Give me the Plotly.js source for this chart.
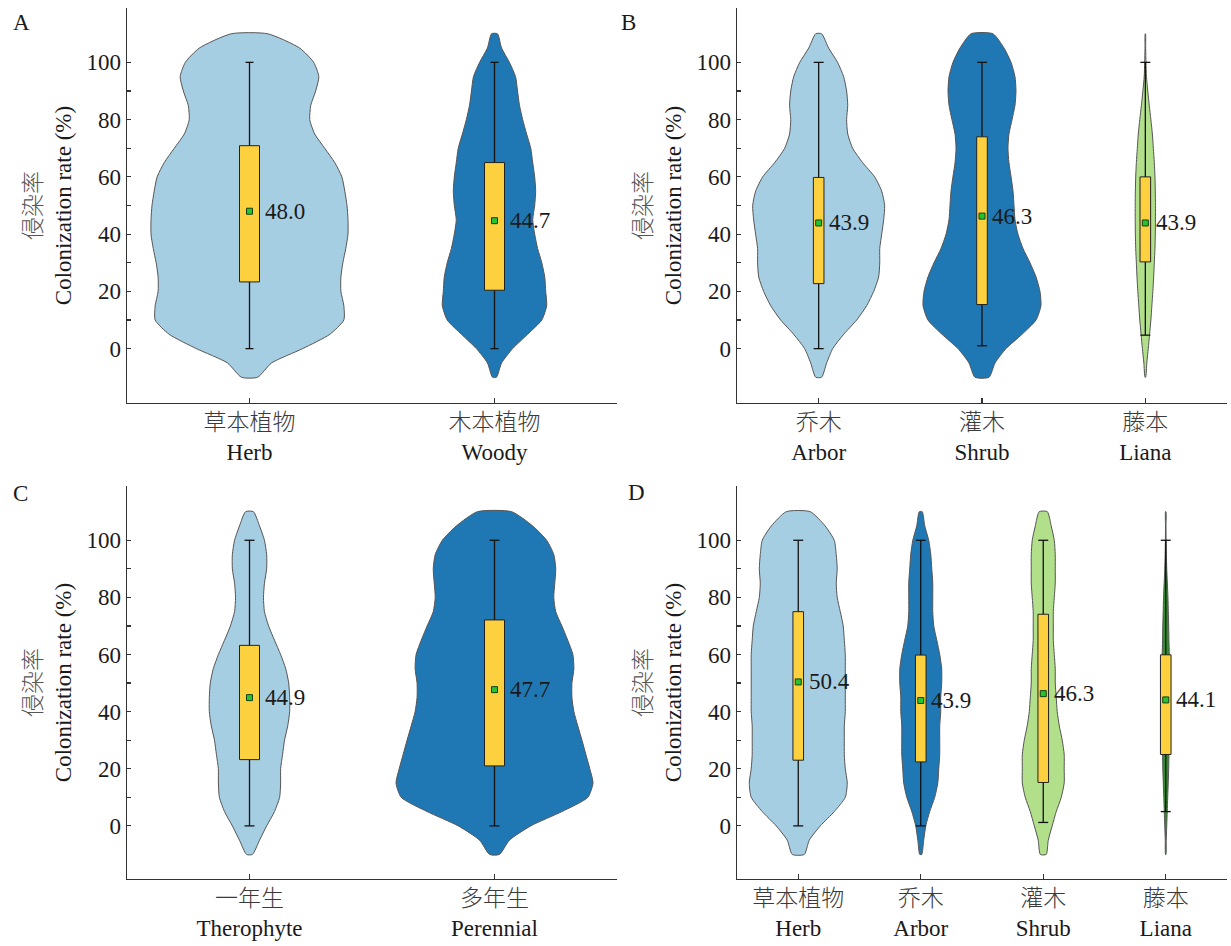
<!DOCTYPE html>
<html><head><meta charset="utf-8">
<script src="https://cdn.plot.ly/plotly-3.0.1.min.js"></script>
<style>html,body{margin:0;padding:0;background:#fff}#chart{width:1231px;height:946px}</style>
</head><body><div id="chart"></div>
<script>
// ---------- data ----------
const yLevels = [-10,-5,0,5,10,15,20,25,30,35,40,45,50,55,60,65,70,75,80,85,90,95,100,105,110];

// Panel A
const catsA_zh = ['草本植物', '木本植物'];
const catsA_en = ['Herb', 'Woody'];
const violinA_Herb  = [0.033,0.090,0.217,0.328,0.385,0.385,0.373,0.373,0.381,0.393,0.402,0.402,0.398,0.389,0.377,0.348,0.307,0.266,0.246,0.250,0.270,0.283,0.262,0.205,0.074];
const violinA_Woody = [0.008,0.029,0.074,0.135,0.193,0.213,0.209,0.205,0.193,0.176,0.164,0.156,0.164,0.168,0.164,0.156,0.148,0.131,0.115,0.102,0.094,0.086,0.061,0.029,0.012];
const q1A = [23.3, 20.4];
const q3A = [70.9, 65.0];
const loA = [0, 0];
const hiA = [100, 100];
const meanA = [48.0, 44.7];

// Panel B
const catsB_zh = ['乔木', '灌木', '藤本'];
const catsB_en = ['Arbor', 'Shrub', 'Liana'];
const violinB_Arbor = [0.018,0.049,0.086,0.153,0.233,0.294,0.337,0.367,0.374,0.374,0.386,0.398,0.404,0.386,0.343,0.269,0.208,0.178,0.171,0.178,0.171,0.153,0.116,0.061,0.018];
const violinB_Shrub = [0.043,0.080,0.147,0.245,0.331,0.361,0.355,0.331,0.294,0.251,0.220,0.202,0.196,0.190,0.178,0.165,0.159,0.165,0.184,0.202,0.208,0.202,0.178,0.135,0.067];
const violinB_Liana = [0.002,0.009,0.018,0.026,0.034,0.040,0.046,0.051,0.055,0.059,0.061,0.062,0.062,0.061,0.059,0.055,0.049,0.043,0.034,0.024,0.015,0.007,0.004,0.002,0.001];
const q1B = [22.7, 15.4, 30.3];
const q3B = [59.8, 74.0, 60.0];
const loB = [0, 1, 4.7];
const hiB = [100, 100, 100];
const meanB = [43.9, 46.3, 43.9];

// Panel C
const catsC_zh = ['一年生', '多年生'];
const catsC_en = ['Therophyte', 'Perennial'];
const violinC_Thero = [0.012,0.041,0.070,0.102,0.123,0.127,0.127,0.135,0.143,0.156,0.164,0.164,0.160,0.148,0.127,0.102,0.078,0.061,0.057,0.061,0.070,0.070,0.061,0.041,0.016];
const violinC_Peren = [0.020,0.061,0.148,0.275,0.381,0.402,0.389,0.373,0.357,0.340,0.324,0.316,0.316,0.324,0.320,0.299,0.275,0.250,0.242,0.246,0.250,0.242,0.213,0.156,0.070];
const q1C = [23.2, 21.0];
const q3C = [63.2, 72.1];
const loC = [0, 0];
const hiC = [100, 100];
const meanC = [44.9, 47.7];

// Panel D
const catsD_zh = ['草本植物', '乔木', '灌木', '藤本'];
const catsD_en = ['Herb', 'Arbor', 'Shrub', 'Liana'];
const violinD_Herb  = [0.049,0.090,0.180,0.294,0.384,0.400,0.384,0.376,0.376,0.376,0.384,0.384,0.384,0.384,0.384,0.376,0.367,0.343,0.318,0.310,0.318,0.310,0.294,0.220,0.098];
const violinD_Arbor = [0.008,0.024,0.041,0.073,0.114,0.139,0.147,0.155,0.155,0.155,0.163,0.163,0.171,0.171,0.155,0.131,0.106,0.098,0.098,0.098,0.090,0.082,0.065,0.033,0.012];
const violinD_Shrub = [0.024,0.041,0.073,0.106,0.147,0.171,0.171,0.171,0.155,0.131,0.114,0.106,0.098,0.098,0.090,0.082,0.082,0.082,0.090,0.098,0.098,0.098,0.090,0.065,0.033];
const violinD_Liana = [0.002,0.004,0.008,0.012,0.016,0.020,0.024,0.026,0.029,0.029,0.030,0.031,0.031,0.030,0.029,0.026,0.024,0.021,0.018,0.013,0.008,0.005,0.003,0.002,0.002];
const q1D = [23.0, 22.4, 15.2, 25.0];
const q3D = [75.0, 59.8, 74.1, 59.9];
const loD = [0, 0, 1.2, 5.0];
const hiD = [100, 100, 100, 100];
const meanD = [50.4, 43.9, 46.3, 44.1];

const yTickVals = [0, 20, 40, 60, 80, 100];
const yMinorVals = [10, 30, 50, 70, 90];

// ---------- styles ----------
const W = 1231, H = 946;
const LIGHTBLUE = '#a6cee3', DARKBLUE = '#1f78b4', LIGHTGREEN = '#b2df8a', DARKGREEN = '#2f8f2a';
const BOXFILL = '#fdd03f';
const FONT = 'Liberation Serif, "Noto Sans CJK SC", serif';
const FS = 23;
const ZH_STYLE = 'color:#3a3a3a;font-weight:300';
const EN_STYLE = 'font-weight:400';
const domXL = [127/W, 617/W], domXR = [737/W, 1227/W];
const domYT = [1-403/H, 1-8/H], domYB = [1-879/H, 1-486/H];
const rangeYT = [-19, 119], rangeYB = [-18.6, 119];

const traces = [];
const annotations = [];

function addPanel(ax, cats, widths, colors, q1, q3, lo, hi, mean, domX, boxHalfPx, capHalfPx) {
  const xa = 'x' + (ax === 1 ? '' : ax), ya = 'y' + (ax === 1 ? '' : ax);
  const pxPerUnit = (domX[1] - domX[0]) * W / cats.length;
  const bh = boxHalfPx / pxPerUnit, ch = capHalfPx / pxPerUnit;
  cats.forEach((c, i) => {
    const w = widths[i];
    const xs = [], ys = [];
    for (let k = 0; k < yLevels.length; k++) { xs.push(i + w[k]); ys.push(yLevels[k]); }
    for (let k = yLevels.length - 1; k >= 0; k--) { xs.push(i - w[k]); ys.push(yLevels[k]); }
    xs.push(xs[0]); ys.push(ys[0]);
    traces.push({x: xs, y: ys, xaxis: xa, yaxis: ya, mode: 'lines', fill: 'toself',
      fillcolor: colors[i], line: {color: '#555555', width: 1, shape: 'spline', smoothing: 0.6},
      hoverinfo: 'skip', showlegend: false});
  });
  const wx = [], wy = [];
  cats.forEach((c, i) => {
    wx.push(i, i, null, i - ch, i + ch, null, i - ch, i + ch, null);
    wy.push(lo[i], hi[i], null, lo[i], lo[i], null, hi[i], hi[i], null);
  });
  traces.push({x: wx, y: wy, xaxis: xa, yaxis: ya, mode: 'lines',
    line: {color: '#111111', width: 1.3}, hoverinfo: 'skip', showlegend: false});
  cats.forEach((c, i) => {
    traces.push({x: [i - bh, i + bh, i + bh, i - bh, i - bh], y: [q1[i], q1[i], q3[i], q3[i], q1[i]],
      xaxis: xa, yaxis: ya, mode: 'lines', fill: 'toself', fillcolor: BOXFILL,
      line: {color: '#222222', width: 1}, hoverinfo: 'skip', showlegend: false});
  });
  traces.push({x: cats.map((c, i) => i), y: mean, xaxis: xa, yaxis: ya, mode: 'markers',
    marker: {symbol: 'square', size: 6, color: '#27c22f', line: {color: '#14401a', width: 1}},
    showlegend: false, hoverinfo: 'y'});
  mean.forEach((m, i) => {
    annotations.push({x: i + bh, y: m, xref: xa, yref: ya, xanchor: 'left', yanchor: 'middle',
      xshift: 3, showarrow: false, text: m.toFixed(1), font: {family: FONT, size: FS, color: '#1a1a1a'}});
  });
}

function labels(zh, en) {
  return zh.map((z, i) => '<span style="' + ZH_STYLE + '">' + z + '</span><br><span style="' + EN_STYLE + '">' + en[i] + '</span>');
}
const catsA = labels(catsA_zh, catsA_en), catsB = labels(catsB_zh, catsB_en);
const catsC = labels(catsC_zh, catsC_en), catsD = labels(catsD_zh, catsD_en);

addPanel(1, catsA, [violinA_Herb, violinA_Woody], [LIGHTBLUE, DARKBLUE], q1A, q3A, loA, hiA, meanA, domXL, 10, 4);
addPanel(2, catsB, [violinB_Arbor, violinB_Shrub, violinB_Liana], [LIGHTBLUE, DARKBLUE, LIGHTGREEN], q1B, q3B, loB, hiB, meanB, domXR, 5.3, 5);
addPanel(3, catsC, [violinC_Thero, violinC_Peren], [LIGHTBLUE, DARKBLUE], q1C, q3C, loC, hiC, meanC, domXL, 10, 5);
addPanel(4, catsD, [violinD_Herb, violinD_Arbor, violinD_Shrub, violinD_Liana], [LIGHTBLUE, DARKBLUE, LIGHTGREEN, DARKGREEN], q1D, q3D, loD, hiD, meanD, domXR, 5.3, 5);

function xAxis(cats, dom, anchor) {
  return {domain: dom, anchor: anchor, range: [-0.5, cats.length - 0.5],
    tickmode: 'array', tickvals: cats.map((c, i) => i), ticktext: cats,
    showline: true, linecolor: '#333333', linewidth: 1.3, mirror: false,
    ticks: 'inside', ticklen: 5, tickwidth: 1.2, tickcolor: '#333333',
    ticklabelstandoff: -2,
    showgrid: false, zeroline: false, fixedrange: true,
    tickfont: {family: FONT, size: FS, color: '#1a1a1a'}};
}
function yAxis(dom, range, anchor) {
  return {domain: dom, anchor: anchor, range: range,
    tickmode: 'array', tickvals: yTickVals,
    showline: true, linecolor: '#333333', linewidth: 1.3,
    ticks: 'inside', ticklen: 4, tickwidth: 1.2, tickcolor: '#333333',
    minor: {tickmode: 'array', tickvals: yMinorVals, ticks: 'inside', ticklen: 4, tickwidth: 1.2, tickcolor: '#333333', showgrid: false},
    showgrid: false, zeroline: false, fixedrange: true,
    tickfont: {family: FONT, size: FS, color: '#1a1a1a'},
    title: {text: '<span style="color:#555555;font-weight:300">侵染率</span><br><span style="font-weight:400">Colonization rate (%)</span>',
      font: {family: FONT, size: FS, color: '#1a1a1a'}, standoff: 8}};
}

const letters = [['A', 11, 22], ['B', 619, 22], ['C', 11, 493], ['D', 626, 492]];
letters.forEach(l => annotations.push({x: l[1] / W, y: 1 - l[2] / H, xref: 'paper', yref: 'paper',
  xanchor: 'left', yanchor: 'middle', showarrow: false, text: l[0],
  font: {family: FONT, size: FS, color: '#1a1a1a'}}));

const layout = {
  width: W, height: H, margin: {l: 0, r: 0, t: 0, b: 0},
  paper_bgcolor: '#ffffff', plot_bgcolor: 'rgba(0,0,0,0)',
  font: {family: FONT, size: FS, color: '#1a1a1a'},
  showlegend: false,
  xaxis: xAxis(catsA, domXL, 'y'),  yaxis: yAxis(domYT, rangeYT, 'x'),
  xaxis2: xAxis(catsB, domXR, 'y2'), yaxis2: yAxis(domYT, rangeYT, 'x2'),
  xaxis3: xAxis(catsC, domXL, 'y3'), yaxis3: yAxis(domYB, rangeYB, 'x3'),
  xaxis4: xAxis(catsD, domXR, 'y4'), yaxis4: yAxis(domYB, rangeYB, 'x4'),
  annotations: annotations
};

Plotly.newPlot('chart', traces, layout, {displayModeBar: false, staticPlot: true});
</script>
</body></html>
